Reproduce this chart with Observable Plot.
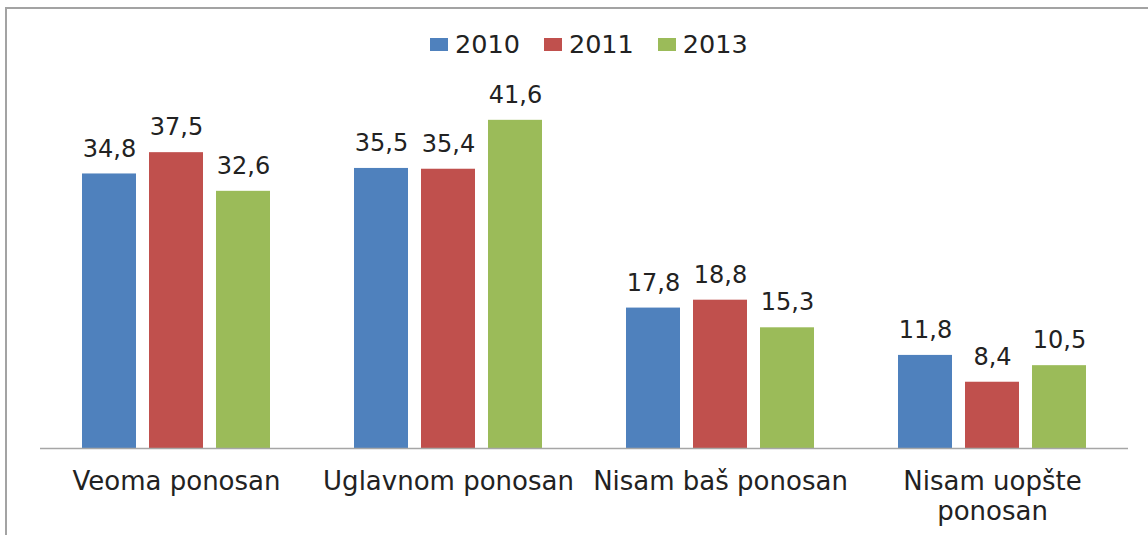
<!DOCTYPE html>
<html><head><meta charset="utf-8">
<script src="https://cdn.jsdelivr.net/npm/d3@7"></script>
<script src="https://cdn.jsdelivr.net/npm/@observablehq/plot@0.6"></script>
<style>
html,body{margin:0;padding:0;background:#fff;overflow:hidden;}
#wrap{position:relative;width:1148px;height:535px;font-family:"DejaVu Sans",sans-serif;}
#frame{position:absolute;left:5px;top:7px;width:1160px;height:560px;border-top:2px solid #a3a3a3;border-left:2px solid #a3a3a3;}
#legend{position:absolute;left:430px;top:29px;display:flex;align-items:center;font-size:25.5px;color:#222;}
#legend .item{display:flex;align-items:center;margin-right:24px;}
#legend .sw{width:18px;height:13px;margin-right:7px;}
#chart{position:absolute;left:0;top:70px;}
</style>
</head><body>
<div id="wrap"><div id="frame"></div><div id="legend"></div><div id="chart"></div></div>
<script>
const categories = ["Veoma ponosan", "Uglavnom ponosan", "Nisam baš ponosan", "Nisam uopšte\nponosan"];
const years = ["2010", "2011", "2013"];
const values2010 = [34.8, 35.5, 17.8, 11.8];
const values2011 = [37.5, 35.4, 18.8, 8.4];
const values2013 = [32.6, 41.6, 15.3, 10.5];
const colors = ["#4f81bd", "#c0504d", "#9bbb59"];

const series = [values2010, values2011, values2013];
const data = categories.flatMap((c, i) => years.map((y, j) => ({category: c, year: y, value: series[j][i]})));
const fmt = v => d3.format(".1f")(v).replace(".", ",");

const legend = d3.select("#legend");
years.forEach((y, j) => {
  const it = legend.append("div").attr("class", "item");
  it.append("div").attr("class", "sw").style("background", colors[j]);
  it.append("span").text(y);
});

const chart = Plot.plot({
  width: 1148, height: 465,
  marginLeft: 40, marginRight: 20, marginTop: 23, marginBottom: 87,
  fx: {domain: categories, padding: 0, label: null},
  x: {domain: years, paddingInner: 0.19, paddingOuter: 0.6, axis: null},
  y: {domain: [0, 45], axis: null},
  color: {domain: years, range: colors},
  style: {fontFamily: "DejaVu Sans", background: "transparent", overflow: "visible"},
  marks: [
    Plot.barY(data, {fx: "category", x: "year", y: "value", fill: "year"}),
    Plot.ruleY([0], {stroke: "#a6a6a6", strokeWidth: 1.5}),
    Plot.text(data, {fx: "category", x: "year", y: "value", text: d => fmt(d.value), dy: -25, fontSize: 24, fill: "#222"}),
    Plot.axisFx({anchor: "bottom", tickSize: 0, tickPadding: 20, fontSize: 26, label: null, lineHeight: 1.15, fill: "#222"})
  ]
});
document.getElementById("chart").appendChild(chart);
</script>
</body></html>
